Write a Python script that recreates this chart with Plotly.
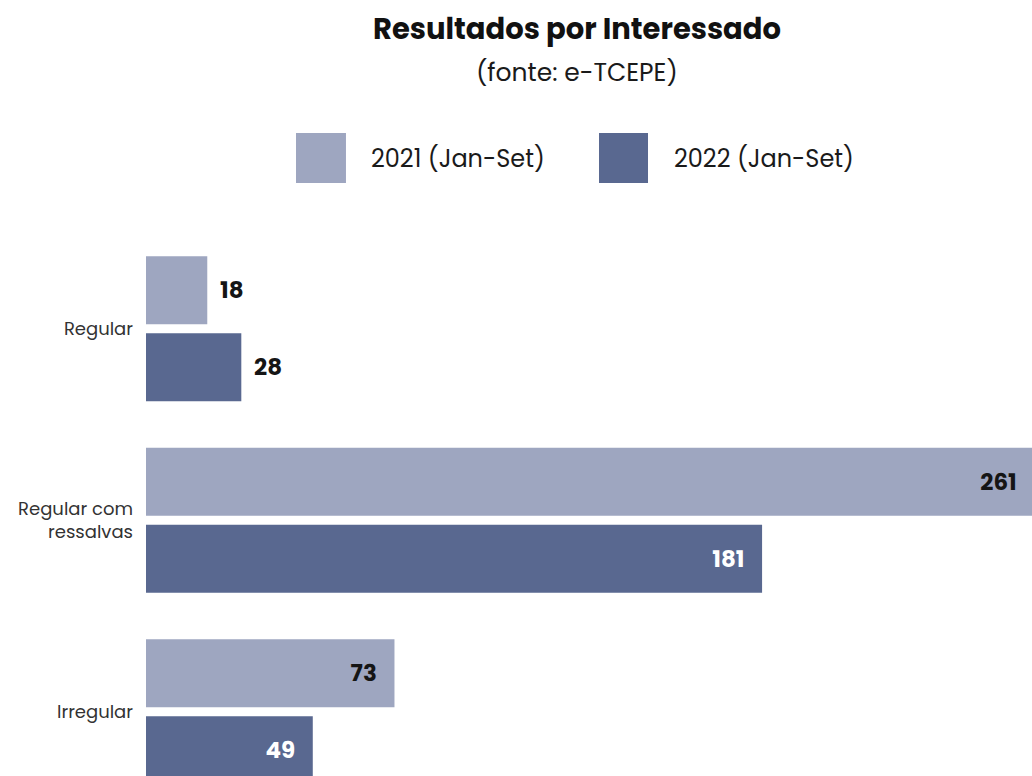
import plotly.graph_objects as go

categories = ["Regular", "Regular com<br>ressalvas", "Irregular"]
series_names = ["2021 (Jan-Set)", "2022 (Jan-Set)"]
values_2021 = [18, 261, 73]
values_2022 = [28, 181, 49]

title_text = "Resultados por Interessado"
subtitle_text = "(fonte: e-TCEPE)"

colors = ["#9ea6c0", "#596890"]
inside_text_colors = ["#151515", "#ffffff"]
FONT = "Poppins, Inter, sans-serif"
NB = "\u00a0"
INSIDE_MIN = 40


def labels(vals):
    return [(f"{v}" + NB * 3) if v >= INSIDE_MIN else (NB * 2 + f"{v}") for v in vals]


def positions(vals):
    return ["inside" if v >= INSIDE_MIN else "outside" for v in vals]


def text_colors(vals, inside_color):
    return [inside_color if v >= INSIDE_MIN else "#151515" for v in vals]


fig = go.Figure()
for name, vals, col, tcol in zip(series_names, [values_2021, values_2022], colors, inside_text_colors):
    fig.add_trace(go.Bar(
        y=categories,
        x=vals,
        name=name,
        orientation="h",
        marker=dict(color=col, line=dict(width=0)),
        text=labels(vals),
        textposition=positions(vals),
        insidetextanchor="end",
        textangle=0,
        constraintext="none",
        textfont=dict(family=FONT, size=23, color=text_colors(vals, tcol), weight="bold"),
        showlegend=False,
        hoverinfo="skip",
    ))

# Manual legend (large square swatches)
legend_x = [(0.1693, 0.2257, 0.2517), (0.5113, 0.5666, 0.5937)]
for (x0, x1, tx), col, name in zip(legend_x, colors, series_names):
    fig.add_shape(type="rect", xref="paper", yref="paper",
                  x0=x0, x1=x1, y0=1.0921, y1=1.1842,
                  fillcolor=col, line=dict(width=0))
    fig.add_annotation(xref="paper", yref="paper", x=tx, y=1.1381,
                       text=name, showarrow=False, xanchor="left", yanchor="middle",
                       font=dict(family=FONT, size=24, color="#1a1a1a"))

fig.add_annotation(xref="paper", yref="paper", x=0.4859, y=1.3757,
                   text=f"<b>{title_text}</b>", showarrow=False,
                   xanchor="center", yanchor="middle",
                   font=dict(family=FONT, size=29, color="#111111"))
fig.add_annotation(xref="paper", yref="paper", x=0.4859, y=1.2947,
                   text=subtitle_text, showarrow=False,
                   xanchor="center", yanchor="middle",
                   font=dict(family=FONT, size=25, color="#1a1a1a"))

fig.update_layout(
    width=1032, height=776,
    margin=dict(l=146, r=0, t=233, b=0),
    paper_bgcolor="white", plot_bgcolor="white",
    barmode="group",
    bargap=0.196,
    bargroupgap=0.117,
    font=dict(family=FONT),
    xaxis=dict(range=[0, 260.3], showticklabels=False, showgrid=False,
               zeroline=False, showline=False, fixedrange=True),
    yaxis=dict(range=[2.336, -0.5], showgrid=False, zeroline=False, showline=False,
               ticks="", ticklabelstandoff=12, fixedrange=True,
               tickfont=dict(family=FONT, size=18, color="#333333")),
)

fig.write_html(
    "out.html",
    config={"displayModeBar": False},
    post_script="document.body.style.margin='0';document.body.style.overflow='hidden';",
)
